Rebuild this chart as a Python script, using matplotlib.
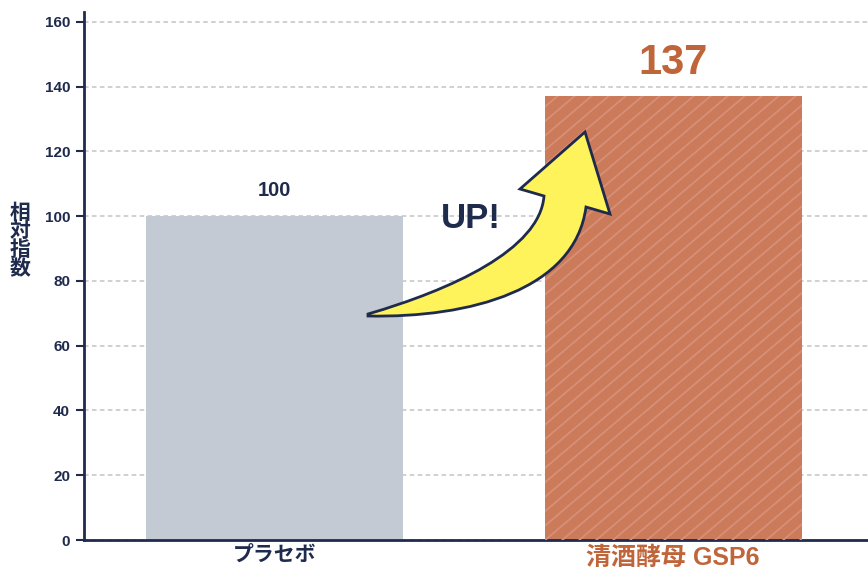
import matplotlib.pyplot as plt
from matplotlib.path import Path
from matplotlib.patches import PathPatch
from matplotlib.lines import Line2D

plt.rcParams['font.family'] = ['Liberation Sans', 'Noto Sans CJK JP', 'DejaVu Sans']

# データ
categories = ['プラセボ', '清酒酵母 GSP6']
values = [100, 137]
value_labels = ['100', '137']
yticks = [0, 20, 40, 60, 80, 100, 120, 140, 160]

navy = '#1F2B4D'
orange = '#C0653A'
bar_gray = '#C3CAD4'
bar_orange = '#CB7B5A'

fig = plt.figure(figsize=(8.68, 5.7), dpi=100)
ax = fig.add_axes([84 / 868, 1 - 540 / 570, 1 - 84 / 868, (540 - 12) / 570])

x = [0, 1]
ax.bar(x[0], values[0], width=0.645, color=bar_gray, zorder=2)
bars = ax.bar(x[1], values[1], width=0.645, color=bar_orange, linewidth=0, zorder=2)

ax.set_xlim(-0.478, 1.489)
ax.set_ylim(0, 163)
ax.set_yticks(yticks)
ax.yaxis.grid(True, linestyle=(0, (3, 2.2)), color='#C4C4C4', linewidth=1.1, zorder=0)
ax.set_axisbelow(True)

# 斜線 (ピクセル間隔 17px, バーでクリップ)
rect = bars[0]
for k in range(-40, 60):
    x0 = k * 17
    ln = Line2D([x0 / 868, (x0 + 600) / 868], [0, 510 / 570], transform=fig.transFigure,
                color='#D88F78', linewidth=1.3, zorder=3)
    ln.set_clip_path(rect)
    fig.add_artist(ln)

for s in ['top', 'right']:
    ax.spines[s].set_visible(False)
for s in ['left', 'bottom']:
    ax.spines[s].set_color(navy)
    ax.spines[s].set_linewidth(2)

ax.tick_params(axis='y', colors=navy, length=6, width=1.5, pad=4)
for lbl in ax.get_yticklabels():
    lbl.set_fontweight('bold')
    lbl.set_fontsize(11)
    lbl.set_color(navy)

ax.set_xticks(x)
ax.set_xticklabels(categories)
ax.tick_params(axis='x', length=0, pad=4)
xl = ax.get_xticklabels()
xl[0].set_color(navy)
xl[0].set_fontsize(15)
xl[0].set_fontweight('bold')
xl[1].set_color(orange)
xl[1].set_fontsize(18)
xl[1].set_fontweight('bold')

# 値ラベル
ax.text(x[0], values[0] + 5, value_labels[0], ha='center', va='bottom',
        fontsize=14.5, fontweight='bold', color=navy)
ax.text(x[1], values[1] + 4, value_labels[1], ha='center', va='bottom',
        fontsize=30, fontweight='bold', color=orange)

# 縦書きの軸ラベル
fig.text(20 / 868, 1 - 241 / 570, '\n'.join('相対指数'), ha='center', va='center',
         fontsize=15, fontweight='bold', color=navy, linespacing=0.95)

# 矢印 (ピクセル座標 → 図座標)
pts = [(368, 314), (450, 290), (540, 250), (544, 196),
       (520, 189), (585, 132), (610, 214), (586, 207),
       (575, 290), (470, 318), (368, 316), (368, 314)]
codes = [Path.MOVETO, Path.CURVE4, Path.CURVE4, Path.CURVE4,
         Path.LINETO, Path.LINETO, Path.LINETO, Path.LINETO,
         Path.CURVE4, Path.CURVE4, Path.CURVE4, Path.CLOSEPOLY]
verts = [(px / 868, 1 - py / 570) for px, py in pts]
arrow = PathPatch(Path(verts, codes), transform=fig.transFigure,
                  facecolor='#FFF35C', edgecolor=navy, linewidth=2,
                  joinstyle='miter', zorder=5)
fig.patches.append(arrow)

fig.text(471 / 868, 1 - 218 / 570, 'UP!', ha='center', va='center',
         fontsize=25, fontweight='bold', color=navy)

fig.savefig('out.png', dpi=100)
